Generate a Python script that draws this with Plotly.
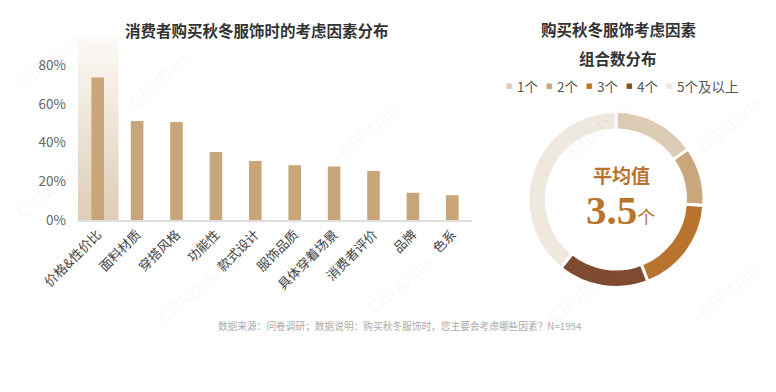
import plotly.graph_objects as go

# ---------------- data ----------------
factors = ["价格&性价比", "面料材质", "穿搭风格", "功能性", "款式设计",
           "服饰品质", "具体穿着场景", "消费者评价", "品牌", "色系"]
factor_pct = [73.7, 51.2, 50.6, 35.1, 30.5, 28.3, 27.6, 25.3, 14.1, 12.8]
y_ticks = [0, 20, 40, 60, 80]
y_tick_text = ["0%", "20%", "40%", "60%", "80%"]

combo_labels = ["1个", "2个", "3个", "4个", "5个及以上"]
combo_share = [15.3, 10.8, 18.0, 16.7, 39.2]
combo_colors = ["#dccbb5", "#c9a67c", "#b8732f", "#7e4a30", "#efe8de"]
avg_value = "3.5"

title_left = "消费者购买秋冬服饰时的考虑因素分布"
title_right = ["购买秋冬服饰考虑因素", "组合数分布"]
footer = "数据来源：问卷调研；数据说明：购买秋冬服饰时，您主要会考虑哪些因素？N=1954"

W, H = 776, 392
CJK = "Noto Sans CJK SC"

def px(x):
    return x / W

def py(y):
    return (H - y) / H

fig = go.Figure()

# ---------------- bar chart ----------------
fig.add_trace(go.Bar(
    x=factors, y=factor_pct, width=0.32,
    marker=dict(color="#c9a57a", line=dict(width=0)),
    hoverinfo="x+y", showlegend=False,
    xaxis="x", yaxis="y",
))

# gradient highlight behind first bar
shapes = []
N = 40
ymax = 95
bottom_rgb = (222, 205, 182)
top_rgb = (252, 250, 247)
for i in range(N):
    t0 = i / N
    t1 = (i + 1) / N
    tm = (t0 + t1) / 2
    c = tuple(int(round(bottom_rgb[k] + (top_rgb[k] - bottom_rgb[k]) * tm)) for k in range(3))
    shapes.append(dict(
        type="rect", xref="x", yref="y", layer="below",
        x0=-0.53, x1=0.53, y0=ymax * t0, y1=ymax * t1 + 0.3,
        fillcolor="rgb(%d,%d,%d)" % c, line=dict(width=0),
    ))

# ---------------- donut ----------------
fig.add_trace(go.Pie(
    labels=combo_labels, values=combo_share, sort=False,
    direction="clockwise", rotation=0, hole=0.79,
    marker=dict(colors=combo_colors, line=dict(color="white", width=3)),
    textinfo="none", hoverinfo="label+percent", showlegend=False,
    domain=dict(x=[px(528), px(704)], y=[py(287.5), py(111.5)]),
))

annotations = []
# titles
annotations.append(dict(
    text="<b>%s</b>" % title_left, x=px(257), y=py(30), xref="paper", yref="paper",
    showarrow=False, font=dict(family=CJK, size=15.5, color="#333333"),
    xanchor="center", yanchor="middle",
))
annotations.append(dict(
    text="<b>%s</b>" % title_right[0], x=px(618), y=py(29), xref="paper", yref="paper",
    showarrow=False, font=dict(family=CJK, size=15.5, color="#333333"),
    xanchor="center", yanchor="middle",
))
annotations.append(dict(
    text="<b>%s</b>" % title_right[1], x=px(618), y=py(58), xref="paper", yref="paper",
    showarrow=False, font=dict(family=CJK, size=15.5, color="#333333"),
    xanchor="center", yanchor="middle",
))

# custom legend
for i, (lab, col) in enumerate(zip(combo_labels, combo_colors)):
    sx = 509 + 40 * i
    annotations.append(dict(
        text="■", x=px(sx), y=py(86), xref="paper", yref="paper",
        showarrow=False, font=dict(family="DejaVu Sans", size=7, color=col),
        xanchor="center", yanchor="middle",
    ))
    annotations.append(dict(
        text=lab, x=px(sx + 6), y=py(86), xref="paper", yref="paper",
        showarrow=False, font=dict(family=CJK, size=13.5, color="#555555"),
        xanchor="left", yanchor="middle",
    ))

# center text
annotations.append(dict(
    text="<b>平均值</b>", x=px(621), y=py(174), xref="paper", yref="paper",
    showarrow=False, font=dict(family=CJK, size=19, color="#b8732f"),
    xanchor="center", yanchor="middle",
))
annotations.append(dict(
    text="<b>%s</b><span style='font-size:18px'>个</span>" % avg_value,
    x=px(620), y=py(210), xref="paper", yref="paper",
    showarrow=False, font=dict(family="Liberation Serif, " + CJK, size=41, color="#b8732f"),
    xanchor="center", yanchor="middle",
))

# footer
annotations.append(dict(
    text=footer, x=px(400), y=py(326), xref="paper", yref="paper",
    showarrow=False, font=dict(family=CJK, size=9.7, color="#aaaaaa"),
    xanchor="center", yanchor="middle",
))

# faint watermarks
wm_pos = [(50, 190), (190, 295), (400, 285), (160, 80), (370, 130), (600, 130),
          (730, 125), (730, 290), (580, 295), (50, 60)]
for (wx, wy) in wm_pos:
    annotations.append(dict(
        text="CBNData", x=px(wx), y=py(wy), xref="paper", yref="paper",
        showarrow=False, textangle=-40,
        font=dict(family="Liberation Sans", size=18, color="rgba(0,0,0,0.04)"),
        xanchor="center", yanchor="middle",
    ))

fig.update_layout(
    width=W, height=H,
    margin=dict(l=0, r=0, t=0, b=0, autoexpand=False),
    paper_bgcolor="white", plot_bgcolor="rgba(0,0,0,0)",
    font=dict(family=CJK, color="#555555"),
    shapes=shapes, annotations=annotations,
    xaxis=dict(
        domain=[px(78), px(472)], range=[-0.5, 9.5],
        showline=True, linecolor="#dddddd", linewidth=1.5,
        ticks="", tickangle=-45, showgrid=False, zeroline=False,
        tickfont=dict(family=CJK, size=13, color="#444444"),
        fixedrange=True, automargin=False,
    ),
    yaxis=dict(
        domain=[py(220), py(220 - 1.935 * ymax)], range=[0, ymax],
        tickmode="array", tickvals=y_ticks, ticktext=y_tick_text,
        showgrid=False, zeroline=False,
        showline=False, ticks="", ticklabelstandoff=11,
        tickfont=dict(family=CJK, size=13.5, color="#666666"),
        fixedrange=True, automargin=False,
    ),
)

fig.write_html(
    "out.html",
    config={"displayModeBar": False},
    post_script="document.body.style.margin='0';document.body.style.padding='0';",
)
